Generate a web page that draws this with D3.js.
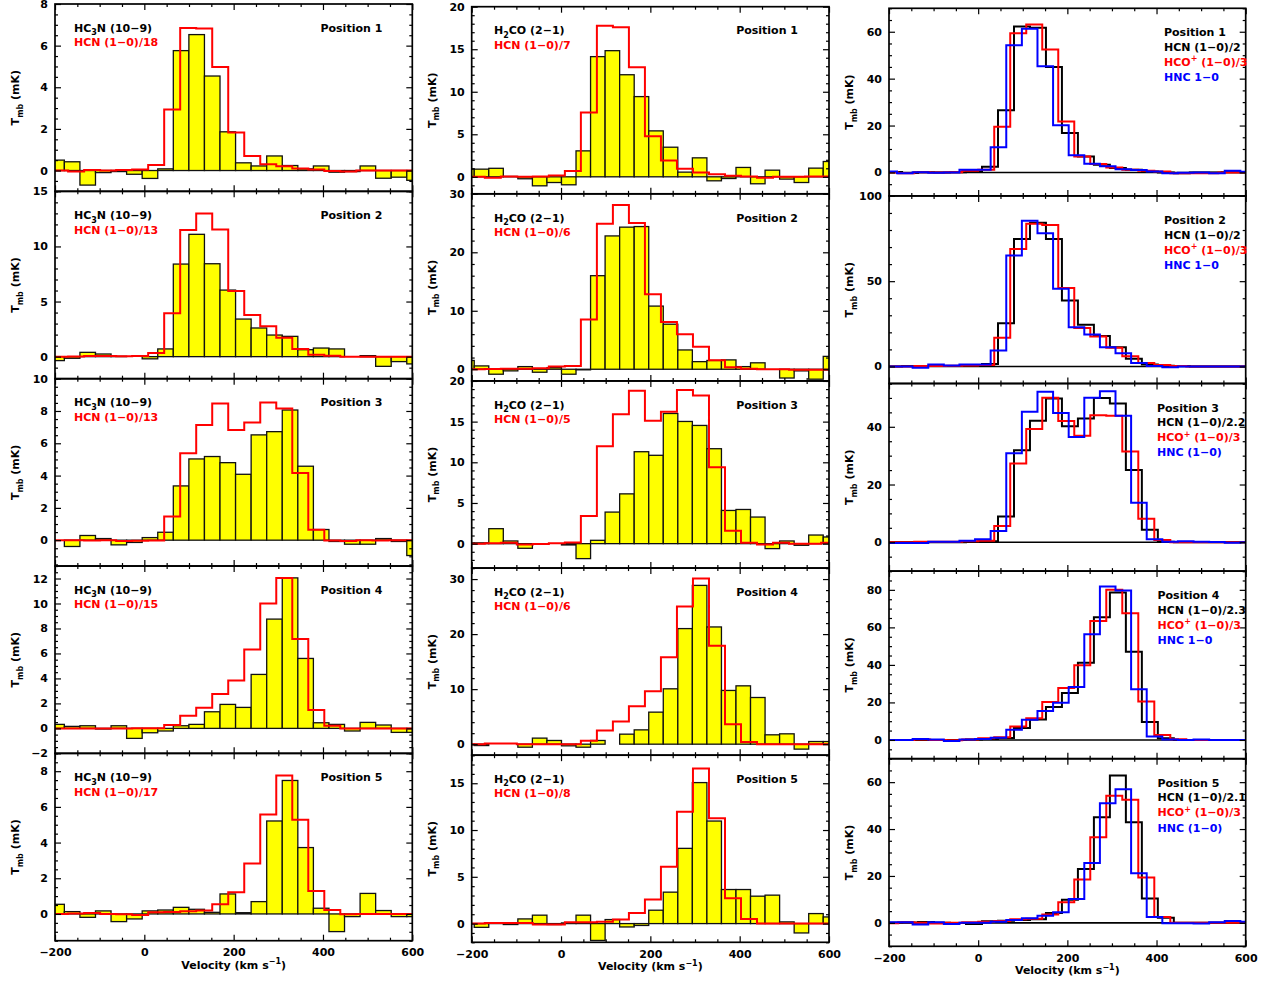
<!DOCTYPE html>
<html><head><meta charset="utf-8">
<script src="https://cdn.jsdelivr.net/npm/d3@7"></script>
<style>
body{margin:0;background:#fff}
svg text{font-family:"DejaVu Sans","Liberation Sans",sans-serif;font-weight:bold;font-size:11px}
</style>
</head><body>
<svg id="c" width="1275" height="983"></svg>
<script>
// ---------------- velocity grids (km/s): first channel edge and channel width ----------------
const hc3nV0 = -213.9, hc3nDV = 34.85;
const h2coV0 = -226.9, h2coDV = 32.56;
const hcnV0  = -206.5, hcnDV  = 35.85;
const hcopV0 = -215.3, hcopDV = 35.9;
const hncV0  = -217.0, hncDV  = 35.0;

// ---------------- column 1: HC3N (10-9) bars and scaled HCN (1-0) ----------------
const hc3n1 = [0.5,0.42,-0.7,-0.1,-0.05,-0.18,-0.38,0.08,5.76,6.53,4.54,1.86,0.37,0.22,0.7,0.24,0.08,0.22,-0.08,-0.05,0.22,-0.37,-0.32,-0.47];
const hc3n2 = [-0.36,-0.15,0.39,0.24,0.03,0,-0.2,0.7,8.4,11.1,8.43,6.04,3.41,2.6,1.96,1.84,0.63,0.78,0.7,0,0.09,-0.88,-0.45,-0.66];
const hc3n3 = [0,-0.39,0.29,0.1,-0.29,-0.14,0.16,0.49,3.36,5.03,5.18,4.8,4.08,6.52,6.72,8.06,4.58,0.66,-0.08,-0.25,-0.25,0.1,-0.08,-0.95];
const hc3n4 = [0.32,0.16,0.21,-0.05,0.21,-0.8,-0.35,-0.21,0.21,0.32,1.33,1.92,1.68,4.32,8.75,12.05,5.6,0.45,0.32,-0.21,0.48,0.27,-0.32,-0.32];
const hc3n5 = [0.54,0.13,-0.19,0.17,-0.43,-0.28,0.17,0.22,0.37,0.26,0.09,1.12,0.07,0.69,5.21,7.48,3.72,0.32,-0.99,-0.15,1.15,0.19,-0.15,-0.15];

const hcnA1 = [0,-0.05,0.02,0,0.02,0.05,0.27,2.93,6.85,6.82,4.97,1.83,0.7,0.3,0.2,0.1,0.05,-0.02,-0.05,0,0,0,0];
const hcnA2 = [0,0.02,0.05,0.05,0.03,0.05,0.33,3.93,11.5,13.0,11.54,5.95,3.78,2.75,1.72,0.7,0.18,0.09,0,0,0,0,0];
const hcnA3 = [0,0,-0.02,0,-0.05,-0.03,-0.02,1.46,5.38,7.13,8.47,6.82,7.28,8.52,8.16,4.16,0.64,-0.02,-0.05,0,-0.02,0,0];
const hcnA4 = [0,0,0,0,0,0.02,0.02,0.27,1.01,1.65,2.75,3.84,6.32,10.0,12.05,7.15,1.47,0.21,0,0,0,0,0];
const hcnA5 = [0,0.03,0.05,0,-0.02,-0.06,0.09,0.11,0.15,0.19,0.54,1.21,2.83,5.58,7.76,5.28,1.28,0.22,-0.02,0,0,0,0];
const hcnDivA = ["18","13","13","15","17"];

// ---------------- column 2: H2CO (2-1) bars and scaled HCN (1-0) ----------------
const h2co1 = [0.9,0.9,1.0,0.04,-0.23,-1.06,-0.67,-0.94,3.05,14.13,14.83,12.0,9.43,5.4,3.48,0.55,2.23,-0.47,-0.2,1.1,-0.82,0.78,-0.27,-0.67,1.02,1.8];
const h2co2 = [1.5,0.57,-0.85,-0.28,0.45,-0.51,0.28,-0.85,-0.1,16,22.8,24.3,24.4,10.8,7.7,3.3,1.3,1.5,1.6,0.45,1.1,0,-1.5,-0.28,-1.7,2.2];
const h2co3 = [0.1,0.1,1.84,0.33,-0.57,-0.08,0,-0.16,-1.84,0.41,3.88,6.12,11.3,10.86,16,15.02,14.53,11.67,4.08,4.2,3.27,-0.61,0.33,-0.2,1.06,0.82];
const h2co4 = [-0.1,-0.25,0,0,-0.55,1.1,0.67,-0.3,-0.55,0.67,0,1.82,2.6,5.82,10.06,21,28.85,21.3,9.76,10.6,8.48,1.7,1.88,-0.9,0.48,0.48];
const h2co5 = [0,-0.4,0.07,-0.1,0.5,0.9,-0.1,0.07,0.9,-1.8,0.43,-0.36,-0.2,1.43,3.36,8.04,15.07,10.96,3.64,3.64,2.93,3.04,0.18,-1.0,1.07,0.71];

const hcnB1 = [0,-0.12,0.04,0,0.04,0.16,0.67,7.55,17.77,17.57,12.88,4.77,1.92,0.94,0.5,0.31,0.12,0.04,-0.12,0,0,0.04,0.04];
const hcnB2 = [0,0.05,0.1,0.1,0.15,0.45,0.57,8.52,24.9,28.1,25,12.84,8.1,5.97,3.86,1.53,0.34,0.1,0,0,-0.1,-0.1,-0.1];
const hcnB3 = [0,0.05,0.1,-0.1,-0.05,0.05,0.15,3.39,11.96,15.9,18.8,15.1,16.2,18.9,18.2,9.4,1.6,0.1,-0.1,0.1,0,0,0.1];
const hcnB4 = [0,0.1,0.1,0,0,0,0,0.6,2.5,4.1,6.9,9.6,15.8,25,30.1,17.9,3.6,0.4,0,0,0,0,0];
const hcnB5 = [0,0.05,0.05,0.05,-0.1,-0.1,0.15,0.15,0.2,0.43,1.14,2.57,6.07,11.96,16.57,11.25,2.71,0.5,0,0,0,0,0];
const hcnDivB = ["7","6","5","6","8"];

// ---------------- column 3: HCN, HCO+ and HNC (1-0) ----------------
const hcnC1  = [0.2,-0.2,0.1,0,0.1,0.4,2.4,26.5,62.2,61.7,45,16.8,6.8,3.3,1.9,1.1,0.4,0,-0.3,0,0,0.1,0.1];
const hcopC1 = [0,-0.3,0.1,0,0.1,0.7,1.1,19.5,59.4,63.1,52.4,21.7,6.8,3.6,2.1,1.1,0.7,0.4,-0.3,-0.3,-0.3,0,0,0];
const hncC1  = [0.4,-0.3,0.1,-0.1,0,1.1,1.1,10.7,54.2,61.3,45.3,20.1,7.3,3.7,2.6,1.4,1.0,0.4,-0.3,-0.1,0,-0.3,0.7,0.3];

const hcnC2  = [0,0.2,0.3,0.3,0.3,0.4,1.5,25.4,74.8,84.2,74.8,38.7,24.4,17.8,11.3,4.5,1.2,0.4,0.2,0,0,0,0];
const hcopC2 = [0,0,0.2,0.3,0.4,0.5,0.8,16.8,68.8,83.6,83,46,22.5,17.5,11,6,2,0.8,0.2,0,0,0,0,-0.1];
const hncC2  = [0,0,-0.8,1.2,0.6,1.2,1.2,9.4,65,85.5,78.1,45.5,23,18.8,11.3,7.8,2,0.2,-0.4,0,0,0,0,0];

const hcnC3  = [0,0,0,0,0,0.2,0.3,8.9,31.9,42.1,49.8,40.2,42.9,50,48.1,25,4.3,0.2,0,0,0,0,0];
const hcopC3 = [0,0,0.2,0.2,0.2,0.3,0.5,5.6,27.3,39.2,50.1,42,36.9,44,43.8,31.4,8.1,0.8,0,0,0,0,0,0];
const hncC3  = [-0.3,-0.3,-0.3,0.2,0.2,0.5,1.0,3.9,30.8,45.2,52.1,44.8,36.5,50.1,52.3,43.8,13.7,1.0,0.2,0.3,0.2,0.1,-0.2,0];

const hcnC4  = [0,0,0,0,0,0.2,0.5,1.1,6.3,10.9,17.5,25,41.1,65.4,78.6,47,9.5,0.9,0,0,0,0,0];
const hcopC4 = [0,0,0.3,0,-0.2,0.3,0.9,1.5,7.1,11.6,20.2,27.7,39.8,63.4,80,67.5,20.5,2.7,0.4,0,0,0,0,0];
const hncC4  = [0,0,0.5,0.2,-0.5,0.2,0.5,1.2,5.4,10.7,15.4,19.8,28.2,56.3,81.8,79.6,27,1.8,0.2,0,0.3,0,0,0];

const hcnC5  = [0,0.2,0.4,0,-0.1,-0.5,0.7,0.9,1.2,1.5,4.2,9.9,23,45,62.8,42.9,10.4,2.2,0,0,0,0,0];
const hcopC5 = [-0.2,0.3,0,-0.3,0,0.3,0.5,0.8,1.5,1.8,3.6,8.8,18.5,36.5,54.2,52.5,19.3,2.5,0,0,0,0,0,0];
const hncC5  = [0.3,0.3,-0.7,0.3,-0.5,0,0,0.5,1.2,2,3,4.5,10.2,25.5,51,57,21.2,2.5,-0.2,-0.2,-0.3,0.3,0.8,0.5];
const hcnDivC = ["2","2","2.2","2.3","2.1"];
const hncLabC = ["HNC 1−0","HNC 1−0","HNC (1−0)","HNC 1−0","HNC (1−0)"];

// ---------------- axes ----------------
const velDomain = [-200, 600];
const velTicks = [-200, 0, 200, 400, 600];
const velMinor = d3.range(-200, 601, 50);
const positions = ["Position 1","Position 2","Position 3","Position 4","Position 5"];
const yRangesA = [[-1,8],[-2,15],[-1.6,10],[-2,13],[-1.5,9]];
const yStepsA  = [[2,0.5],[5,1],[2,0.5],[2,0.5],[2,0.5]];
const yRangesB = [[-2,20],[-2,30],[-3,20],[-2,32],[-2,18]];
const yStepsB  = [[5,1],[10,2],[5,1],[10,2],[5,1]];
const yRangesC = [[-10,70],[-10,100],[-10,55],[-10,90],[-10,70]];
const yStepsC  = [[20,5],[50,10],[20,5],[20,5],[20,5]];

const barsA = [hc3n1,hc3n2,hc3n3,hc3n4,hc3n5];
const redA  = [hcnA1,hcnA2,hcnA3,hcnA4,hcnA5];
const barsB = [h2co1,h2co2,h2co3,h2co4,h2co5];
const redB  = [hcnB1,hcnB2,hcnB3,hcnB4,hcnB5];
const hcnC  = [hcnC1,hcnC2,hcnC3,hcnC4,hcnC5];
const hcopC = [hcopC1,hcopC2,hcopC3,hcopC4,hcopC5];
const hncC  = [hncC1,hncC2,hncC3,hncC4,hncC5];

// ---------------- layout ----------------
const colGeom = [
  {x0:55,    x1:412.3,  top:4,   h:187.34},
  {x0:471.7, x1:829,    top:6.7, h:187.12},
  {x0:889,   x1:1245.7, top:8.3, h:187.6}
];
const col3LabX = [1164,1164,1157,1157.5,1157.5];

const svg = d3.select("#c");
const defs = svg.append("defs");

function rich(g, x, y, parts, color, anchor){
  const t = g.append("text").attr("x",x).attr("y",y).attr("fill",color).attr("text-anchor",anchor||"start");
  let cur = 0;
  parts.forEach(([s,m])=>{
    const target = m===1?3.5:(m===2?-4.5:0);
    const ts = t.append("tspan").attr("dy", target-cur).text(s);
    if(m) ts.style("font-size","8px");
    cur = target;
  });
  return t;
}

function stepPoints(v0, dv, vals){
  const pts = vals.map((v,i)=>[v0+i*dv, v]);
  pts.push([v0+vals.length*dv, vals[vals.length-1]]);
  return pts;
}

function drawPanel(c, r, dom, steps, bars, barV0, barDV, lines, zeroLine){
  const G = colGeom[c];
  const top = G.top + r*G.h, bot = top + G.h;
  const xs = d3.scaleLinear().domain(velDomain).range([G.x0, G.x1]);
  const ys = d3.scaleLinear().domain(dom).range([bot, top]);
  const cid = "clip"+c+"_"+r;
  defs.append("clipPath").attr("id",cid).append("rect")
    .attr("x",G.x0).attr("y",top).attr("width",G.x1-G.x0).attr("height",G.h);
  const g = svg.append("g");
  const plot = g.append("g").attr("clip-path",`url(#${cid})`);

  if(bars){
    plot.selectAll("rect.bar").data(bars).join("rect").attr("class","bar")
      .attr("x",(d,i)=>xs(barV0+i*barDV))
      .attr("width",(d,i)=>xs(barV0+(i+1)*barDV)-xs(barV0+i*barDV))
      .attr("y",d=>ys(Math.max(0,d)))
      .attr("height",d=>Math.abs(ys(d)-ys(0)))
      .attr("fill","#ffff00").attr("stroke","#111").attr("stroke-width",1.3);
  }
  if(zeroLine){
    plot.append("line").attr("x1",G.x0).attr("x2",G.x1).attr("y1",ys(0)).attr("y2",ys(0))
      .attr("stroke","#000").attr("stroke-width",1.6);
  }
  const line = d3.line().x(d=>xs(d[0])).y(d=>ys(d[1])).curve(d3.curveStepAfter);
  lines.forEach(L=>{
    plot.append("path").attr("d", line(stepPoints(L.v0, L.dv, L.vals)))
      .attr("fill","none").attr("stroke",L.color).attr("stroke-width",2).attr("stroke-linejoin","miter");
  });

  // ticks
  const [step, minor] = steps;
  const major = d3.range(Math.ceil(dom[0]/step-1e-9)*step, dom[1]+1e-9, step);
  const minors = d3.range(Math.ceil(dom[0]/minor-1e-9)*minor, dom[1]+1e-9, minor)
      .filter(v=>Math.abs(v/step-Math.round(v/step))>1e-6);
  const vMinor = velMinor.filter(v=>!velTicks.includes(v));
  const fmt = d3.format("~g");
  const styleAxis = a => { a.select(".domain").remove(); a.selectAll("line").attr("stroke","#000").attr("stroke-width",1.2);
    a.attr("font-family",null).attr("font-size",null); a.selectAll("text").attr("fill","#000"); };

  g.append("g").attr("transform",`translate(${G.x0},0)`)
    .call(d3.axisLeft(ys).tickValues(major).tickSize(-6).tickPadding(7).tickFormat(fmt)).call(styleAxis);
  g.append("g").attr("transform",`translate(${G.x0},0)`)
    .call(d3.axisLeft(ys).tickValues(minors).tickSize(-3).tickFormat("")).call(styleAxis);
  g.append("g").attr("transform",`translate(${G.x1},0)`)
    .call(d3.axisRight(ys).tickValues(major).tickSize(-6).tickFormat("")).call(styleAxis);
  g.append("g").attr("transform",`translate(${G.x1},0)`)
    .call(d3.axisRight(ys).tickValues(minors).tickSize(-3).tickFormat("")).call(styleAxis);
  g.append("g").attr("transform",`translate(0,${top})`)
    .call(d3.axisTop(xs).tickValues(velTicks).tickSize(-6).tickFormat("")).call(styleAxis);
  g.append("g").attr("transform",`translate(0,${top})`)
    .call(d3.axisTop(xs).tickValues(vMinor).tickSize(-3).tickFormat("")).call(styleAxis);
  const last = r===4;
  g.append("g").attr("transform",`translate(0,${bot})`)
    .call(d3.axisBottom(xs).tickValues(velTicks).tickSize(-6).tickPadding(8).tickFormat(last?fmt:"")).call(styleAxis);
  g.append("g").attr("transform",`translate(0,${bot})`)
    .call(d3.axisBottom(xs).tickValues(vMinor).tickSize(-3).tickFormat("")).call(styleAxis);

  // frame
  g.append("rect").attr("x",G.x0).attr("y",top).attr("width",G.x1-G.x0).attr("height",G.h)
    .attr("fill","none").attr("stroke","#000").attr("stroke-width",1.7);

  // y title
  const yt = rich(g, 0, 0, [["T",0],["mb",1],[" (mK)",0]], "#000", "middle");
  yt.attr("transform",`translate(${G.x0-36},${(top+bot)/2}) rotate(-90)`);

  if(last){
    rich(g, xs(200), bot+28, [["Velocity (km s",0],["−1",2],[")",0]], "#000", "middle");
  }
  return {g, top, bot, xs, ys};
}

for(let r=0;r<5;r++){
  // column 1
  let P = drawPanel(0, r, yRangesA[r], yStepsA[r], barsA[r], hc3nV0, hc3nDV,
    [{v0:hcnV0, dv:hcnDV, vals:redA[r], color:"#ff0000"}], false);
  rich(P.g, colGeom[0].x0+19, P.top+27.7, [["HC",0],["3",1],["N (10−9)",0]], "#000");
  rich(P.g, colGeom[0].x0+19, P.top+42.3, [["HCN (1−0)/"+hcnDivA[r],0]], "#ff0000");
  rich(P.g, colGeom[0].x1-30, P.top+27.7, [[positions[r],0]], "#000", "end");

  // column 2
  P = drawPanel(1, r, yRangesB[r], yStepsB[r], barsB[r], h2coV0, h2coDV,
    [{v0:hcnV0, dv:hcnDV, vals:redB[r], color:"#ff0000"}], false);
  rich(P.g, colGeom[1].x0+22.3, P.top+27.7, [["H",0],["2",1],["CO (2−1)",0]], "#000");
  rich(P.g, colGeom[1].x0+22.3, P.top+42.3, [["HCN (1−0)/"+hcnDivB[r],0]], "#ff0000");
  rich(P.g, colGeom[1].x1-31, P.top+27.7, [[positions[r],0]], "#000", "end");

  // column 3
  P = drawPanel(2, r, yRangesC[r], yStepsC[r], null, 0, 0, [
    {v0:hcnV0,  dv:hcnDV,  vals:hcnC[r],  color:"#000000"},
    {v0:hcopV0, dv:hcopDV, vals:hcopC[r], color:"#ff0000"},
    {v0:hncV0,  dv:hncDV,  vals:hncC[r],  color:"#0000ff"}], true);
  const lx = col3LabX[r];
  rich(P.g, lx, P.top+28, [[positions[r],0]], "#000");
  rich(P.g, lx, P.top+42.6, [["HCN (1−0)/"+hcnDivC[r],0]], "#000");
  rich(P.g, lx, P.top+57.6, [["HCO",0],["+",2],[" (1−0)/3",0]], "#ff0000");
  rich(P.g, lx, P.top+72.8, [[hncLabC[r],0]], "#0000ff");
}
</script>
</body></html>
